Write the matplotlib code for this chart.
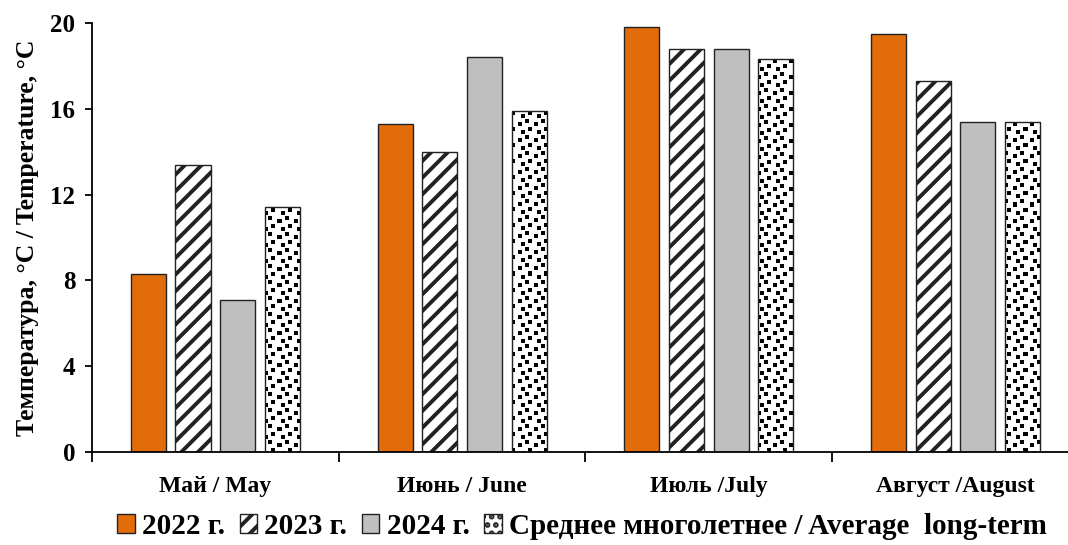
import matplotlib
matplotlib.use('Agg')
import matplotlib.pyplot as plt
import matplotlib.patches as mpatches
import numpy as np

months = ['Май / May', 'Июнь / June', 'Июль /July', 'Август /August']
series = ['2022 г.', '2023 г.', '2024 г.', 'Среднее многолетнее / Average  long-term']
t2022 = [8.3, 15.3, 19.8, 19.5]
t2023 = [13.4, 14.0, 18.8, 17.3]
t2024 = [7.1, 18.4, 18.8, 15.4]
t_avg = [11.4, 15.9, 18.3, 15.4]

plt.rcParams['font.family'] = 'Liberation Serif'
plt.rcParams['font.weight'] = 'bold'
plt.rcParams['hatch.linewidth'] = 2.8

fig = plt.figure(figsize=(10.68, 5.45), dpi=100)
ax = fig.add_axes([0.0861, 0.1706, 0.9242, 0.7872])

x = np.arange(len(months))
width = 0.142
step = 0.181
edge = '#222222'

ax.bar(x - 1.5 * step, t2022, width, color='#E36C0A', edgecolor=edge, linewidth=1.0, zorder=2)
ax.bar(x - 0.5 * step, t2023, width, color='white', hatch='//', edgecolor=edge, linewidth=1.0, zorder=2)
ax.bar(x + 0.5 * step, t2024, width, color='#BFBFBF', edgecolor=edge, linewidth=1.0, zorder=2)
avg_bars = ax.bar(x + 1.5 * step, t_avg, width, facecolor='none', edgecolor=edge, linewidth=1.0, zorder=3)

# confetti texture for the long-term average bars
tile = np.ones((16, 16))
for cx, cy in [(0, 1), (9, 4), (3, 9), (12, 12)]:
    tile[cy:cy + 4, cx:cx + 4] = 0
ny = int(round(0.7872 * 545))
nx = int(round(0.9242 * 1068))
texture = np.tile(tile, (ny // 16 + 1, nx // 16 + 1))[:ny, :nx]
for bar in avg_bars:
    im = ax.imshow(texture, extent=(-0.5, 3.5, 0, 20), aspect='auto', cmap='gray',
                   vmin=0, vmax=1, interpolation='nearest', zorder=2.5)
    im.set_clip_path(bar)

ax.set_xlim(-0.5, 3.5)
ax.set_ylim(0, 20)
ax.set_yticks([0, 4, 8, 12, 16, 20])
ax.set_xticks(x)
ax.set_xticklabels(months, fontsize=17, fontweight='bold')
ax.set_xticks([-0.5, 0.5, 1.5, 2.5, 3.5], minor=True)
ax.tick_params(axis='x', which='major', length=0, pad=17)
ax.tick_params(axis='x', which='minor', length=7, width=1.3, direction='out')
ax.tick_params(axis='y', length=5, width=1.3, labelsize=18, pad=7)
for lab in ax.get_yticklabels():
    lab.set_fontweight('bold')
ax.spines['top'].set_visible(False)
ax.spines['right'].set_visible(False)
ax.spines['left'].set_linewidth(1.3)
ax.spines['bottom'].set_linewidth(1.3)
ax.set_ylabel('Температура, °С / Temperature, °С', fontsize=18.5, fontweight='bold', labelpad=8)

handles = [
    mpatches.Patch(facecolor='#E36C0A', edgecolor=edge),
    mpatches.Patch(facecolor='white', edgecolor=edge, hatch='//'),
    mpatches.Patch(facecolor='#BFBFBF', edgecolor=edge),
    mpatches.Patch(facecolor='white', edgecolor=edge, hatch='..'),
]
fig.legend(handles=handles, labels=series, loc='center', bbox_to_anchor=(0.545, 0.034),
           ncol=4, frameon=False, fontsize=21, handlelength=0.6, handleheight=0.6,
           handletextpad=0.25, columnspacing=0.5, borderaxespad=0)

plt.savefig('out.png', dpi=100)
